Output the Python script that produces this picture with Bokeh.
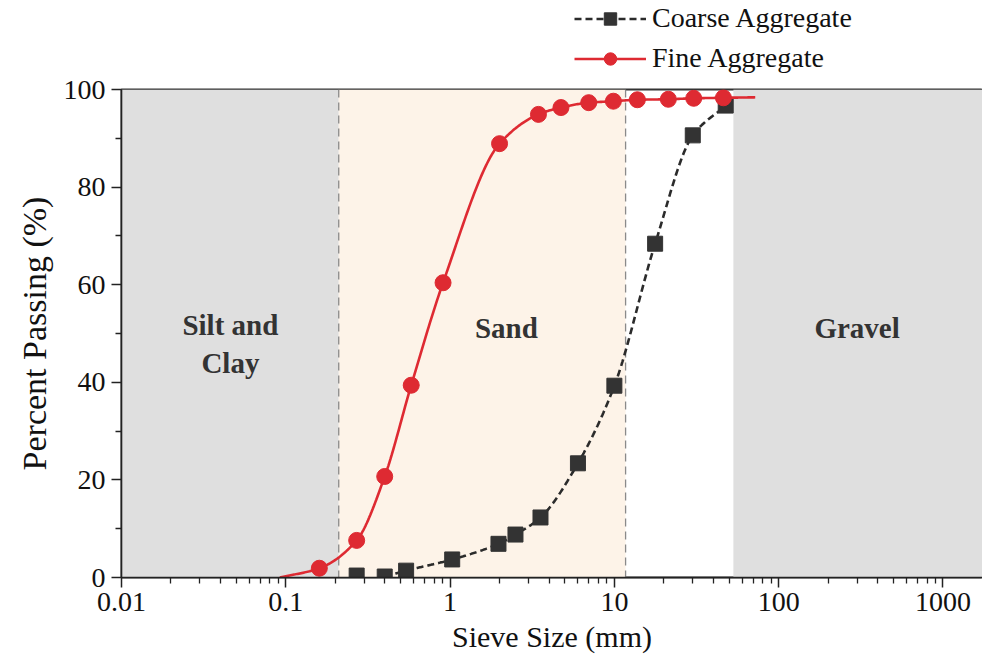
import numpy as np
from bokeh.plotting import figure
from bokeh.layouts import column
from bokeh.models import Range1d, BoxAnnotation, Span, Label, Legend, LegendItem, FixedTicker
from bokeh.embed import file_html
from bokeh.resources import INLINE

# ---------------- data ----------------
coarse_size = [0.27, 0.40, 0.54, 1.03, 1.97, 2.5, 3.55, 6.0, 10.0, 17.7, 30.0, 47.6]
coarse_pass = [0.4, 0.2, 1.4, 3.7, 6.9, 8.8, 12.3, 23.4, 39.3, 68.4, 90.6, 96.7]

fine_size = [0.16, 0.27, 0.40, 0.58, 0.906, 2.0, 3.45, 4.73, 6.98, 9.86, 13.8, 21.3, 30.4, 46.1]
fine_pass = [1.9, 7.6, 20.7, 39.4, 60.4, 88.9, 94.9, 96.3, 97.3, 97.6, 97.9, 98.0, 98.2, 98.3]
# where the fitted fine curve starts and ends beyond the markers
fine_curve_size = [0.092, 72.0]
fine_curve_pass = [0.0, 98.4]

series_names = ["Coarse Aggregate", "Fine Aggregate"]
region_names = ["Silt and\nClay", "Sand", "Gravel"]
region_bounds = [0.21, 11.7, 53.0]   # silt|sand, sand|(gap), gravel start

x_ticks = [0.01, 0.1, 1, 10, 100, 1000]
x_tick_labels = ["0.01", "0.1", "1", "10", "100", "1000"]
y_ticks = [0, 20, 40, 60, 80, 100]
y_minor = [10, 30, 50, 70, 90]


def pchip(x, y, xs):
    x = np.asarray(x, float)
    y = np.asarray(y, float)
    h = np.diff(x)
    d = np.diff(y) / h
    n = len(x)
    m = np.zeros(n)
    for i in range(1, n - 1):
        if d[i - 1] * d[i] > 0:
            w1 = 2 * h[i] + h[i - 1]
            w2 = h[i] + 2 * h[i - 1]
            m[i] = (w1 + w2) / (w1 / d[i - 1] + w2 / d[i])
    m[0] = d[0]
    m[-1] = d[-1]
    idx = np.clip(np.searchsorted(x, xs) - 1, 0, n - 2)
    t = (xs - x[idx]) / h[idx]
    h00 = 2 * t**3 - 3 * t**2 + 1
    h10 = t**3 - 2 * t**2 + t
    h01 = -2 * t**3 + 3 * t**2
    h11 = t**3 - t**2
    return h00 * y[idx] + h10 * h[idx] * m[idx] + h01 * y[idx + 1] + h11 * h[idx] * m[idx + 1]


# smooth curves in log-x space
fx = [fine_curve_size[0]] + fine_size + [fine_curve_size[1]]
fy = [fine_curve_pass[0]] + fine_pass + [fine_curve_pass[1]]
lfx = np.log10(fx)
fs = np.linspace(lfx[0], lfx[-1], 400)
fine_curve_x = (10 ** fs).tolist()
fine_curve_y = pchip(lfx, fy, fs).tolist()

cx = np.log10(coarse_size[1:])
cs = np.linspace(cx[0], cx[-1], 400)
coarse_curve_x = (10 ** cs).tolist()
coarse_curve_y = pchip(cx, coarse_pass[1:], cs).tolist()

SERIF = "Liberation Serif"
RED = "#de2a32"
DARK = "#2b2b2b"
SQ = "#333333"

TOP_H = 74

# ---------------- legend strip (above the plot) ----------------
# Its ranges lie far away from the data, so the series drawn here only feed the legend keys.
top = figure(width=982, height=TOP_H, x_range=Range1d(1000, 2000), y_range=Range1d(1000, 2000),
             output_backend="svg", toolbar_location=None,
             min_border_left=121, min_border_right=0, min_border_top=0, min_border_bottom=0)
top.axis.visible = False
top.grid.visible = False
top.outline_line_color = None
top.background_fill_color = "white"
top.border_fill_color = "white"
lcl = top.line(coarse_curve_x, coarse_curve_y, line_color=DARK, line_width=2.6, line_dash="7 4")
lcm = top.scatter(coarse_size, coarse_pass, marker="square", fill_color=SQ, line_color=SQ)
lfl = top.line(fine_curve_x, fine_curve_y, line_color=RED, line_width=2.6)
lfm = top.scatter(fine_size, fine_pass, marker="circle", fill_color=RED, line_color=RED)
legend = Legend(items=[LegendItem(label=series_names[0], renderers=[lcl, lcm]),
                       LegendItem(label=series_names[1], renderers=[lfl, lfm])],
                location=(453, 0), orientation="vertical",
                label_text_font=SERIF, label_text_font_size="28px", label_text_color="#111111",
                glyph_width=72, glyph_height=31, label_height=30, label_standoff=6,
                spacing=8, padding=0, margin=0,
                border_line_color=None, background_fill_alpha=0)
top.add_layout(legend, "center")

# ---------------- main plot ----------------
p = figure(width=982, height=667 - TOP_H, x_axis_type="log",
           x_range=Range1d(0.01, 1740), y_range=Range1d(0, 100),
           output_backend="svg", toolbar_location=None,
           min_border_left=121, min_border_right=0,
           min_border_top=89 - TOP_H, min_border_bottom=90)
p.background_fill_color = "white"
p.border_fill_color = "white"
p.xgrid.visible = False
p.ygrid.visible = False
p.outline_line_color = "#333333"
p.outline_line_width = 2

# regions
p.add_layout(BoxAnnotation(right=region_bounds[0], fill_color="#dfdfdf", fill_alpha=1,
                           line_color=None, level="underlay"))
p.add_layout(BoxAnnotation(left=region_bounds[0], right=region_bounds[1], fill_color="#fdf3e8",
                           fill_alpha=1, line_color=None, level="underlay"))
p.add_layout(BoxAnnotation(left=region_bounds[2], fill_color="#dfdfdf", fill_alpha=1,
                           line_color=None, level="underlay"))
for b in region_bounds[:2]:
    p.add_layout(Span(location=b, dimension="height", line_color="#8a8a8a",
                      line_dash="8 5", line_width=1.3, level="underlay"))

label_pos = [(0.046, 47.8), (2.2, 51.1), (300, 51.1)]
for name, (lx, ly) in zip(region_names, label_pos):
    p.add_layout(Label(x=lx, y=ly, text=name, text_align="center", text_baseline="middle",
                       text_font=SERIF, text_font_style="bold", text_font_size="29px",
                       text_color="#333333"))

# series
p.line(coarse_curve_x, coarse_curve_y, line_color=DARK, line_width=2.6, line_dash="7 4")
p.scatter(coarse_size, coarse_pass, marker="square", size=15, fill_color=SQ, line_color=SQ)
p.line(fine_curve_x, fine_curve_y, line_color=RED, line_width=2.6)
p.scatter(fine_size, fine_pass, marker="circle", size=16, fill_color=RED, line_color=RED)

# axes
p.xaxis.ticker = FixedTicker(ticks=x_ticks,
                             minor_ticks=[k * 10.0**e for e in range(-2, 4) for k in range(2, 10)])
p.xaxis.major_label_overrides = {t: l for t, l in zip(x_ticks, x_tick_labels)}
p.yaxis.ticker = FixedTicker(ticks=y_ticks, minor_ticks=y_minor)
for ax in (p.xaxis, p.yaxis):
    ax.axis_line_color = "#222222"
    ax.axis_line_width = 1.6
    ax.major_tick_line_color = "#222222"
    ax.minor_tick_line_color = "#222222"
    ax.major_tick_line_width = 1.5
    ax.minor_tick_line_width = 1.3
    ax.major_tick_in = 0
    ax.minor_tick_in = 0
    ax.major_tick_out = 10
    ax.minor_tick_out = 6
    ax.major_label_text_font = SERIF
    ax.major_label_text_font_size = "28px"
    ax.major_label_text_color = "#111111"
    ax.axis_label_text_font = SERIF
    ax.axis_label_text_font_style = "normal"
    ax.axis_label_text_color = "#111111"
p.xaxis.axis_label = "Sieve Size (mm)"
p.xaxis.axis_label_text_font_size = "30px"
p.xaxis.major_label_standoff = 5
p.xaxis.axis_label_standoff = 6
p.yaxis.axis_label = "Percent Passing (%)"
p.yaxis.axis_label_text_font_size = "34px"
p.yaxis.major_label_standoff = 6
p.yaxis.axis_label_standoff = 8

open("out.html", "w").write(file_html(column(top, p, spacing=0), INLINE))
